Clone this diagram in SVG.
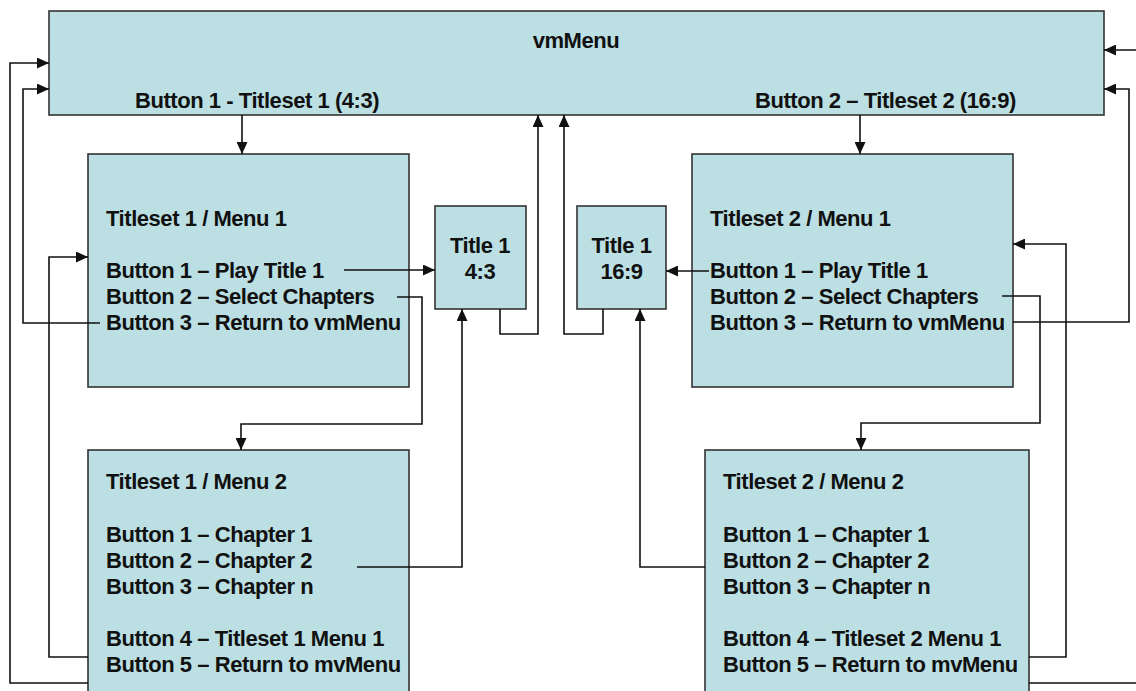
<svg xmlns="http://www.w3.org/2000/svg" width="1136" height="691" viewBox="0 0 1136 691">
<defs>
<style>
.box{fill:#bbdfe3;stroke:#333;stroke-width:1.6}
.t{font-family:"Liberation Sans",Arial,sans-serif;font-weight:bold;font-size:22px;letter-spacing:-0.45px;fill:#111}
.c{fill:none;stroke:#111;stroke-width:1.6}
</style>
<marker id="ah" markerUnits="userSpaceOnUse" markerWidth="13" markerHeight="11" refX="12" refY="5.5" orient="auto">
<path d="M0,0 L12,5.5 L0,11 Z" fill="#111"/>
</marker>
</defs>
<rect width="1136" height="691" fill="#fff"/>
<g id="vmMenu">
<rect class="box" x="49" y="11" width="1055" height="104"/>
<text class="t" x="576" y="48" text-anchor="middle">vmMenu</text>
<text class="t" x="135" y="108">Button 1 - Titleset 1 (4:3)</text>
<text class="t" x="755" y="108">Button 2 – Titleset 2 (16:9)</text>
</g>
<g id="ts1m1">
<rect class="box" x="88" y="154" width="321" height="233"/>
<text class="t" x="106" y="226">Titleset 1 / Menu 1</text>
<text class="t" x="106" y="278">Button 1 – Play Title 1</text>
<text class="t" x="106" y="304">Button 2 – Select Chapters</text>
<text class="t" x="106" y="330">Button 3 – Return to vmMenu</text>
</g>
<g id="title43">
<rect class="box" x="435" y="206" width="91" height="103"/>
<text class="t" x="480" y="253" text-anchor="middle">Title 1</text>
<text class="t" x="480" y="279" text-anchor="middle">4:3</text>
</g>
<g id="title169">
<rect class="box" x="577" y="206" width="89" height="103"/>
<text class="t" x="621.5" y="253" text-anchor="middle">Title 1</text>
<text class="t" x="621.5" y="279" text-anchor="middle">16:9</text>
</g>
<g id="ts2m1">
<rect class="box" x="692" y="154" width="321" height="233"/>
<text class="t" x="710" y="226">Titleset 2 / Menu 1</text>
<text class="t" x="710" y="278">Button 1 – Play Title 1</text>
<text class="t" x="710" y="304">Button 2 – Select Chapters</text>
<text class="t" x="710" y="330">Button 3 – Return to vmMenu</text>
</g>
<g id="ts1m2">
<rect class="box" x="88" y="450" width="321" height="260"/>
<text class="t" x="106" y="489">Titleset 1 / Menu 2</text>
<text class="t" x="106" y="542">Button 1 – Chapter 1</text>
<text class="t" x="106" y="568">Button 2 – Chapter 2</text>
<text class="t" x="106" y="594">Button 3 – Chapter n</text>
<text class="t" x="106" y="646">Button 4 – Titleset 1 Menu 1</text>
<text class="t" x="106" y="672">Button 5 – Return to mvMenu</text>
</g>
<g id="ts2m2">
<rect class="box" x="705" y="450" width="324" height="260"/>
<text class="t" x="723" y="489">Titleset 2 / Menu 2</text>
<text class="t" x="723" y="542">Button 1 – Chapter 1</text>
<text class="t" x="723" y="568">Button 2 – Chapter 2</text>
<text class="t" x="723" y="594">Button 3 – Chapter n</text>
<text class="t" x="723" y="646">Button 4 – Titleset 2 Menu 1</text>
<text class="t" x="723" y="672">Button 5 – Return to mvMenu</text>
</g>
<g id="connectors">
<path class="c" d="M242,115 V154" marker-end="url(#ah)"/>
<path class="c" d="M860,115 V154" marker-end="url(#ah)"/>
<path class="c" d="M88,683 H10 V63 H49" marker-end="url(#ah)"/>
<path class="c" d="M100,323 H23 V89 H49" marker-end="url(#ah)"/>
<path class="c" d="M88,657 H49 V257 H88" marker-end="url(#ah)"/>
<path class="c" d="M344,270 H435" marker-end="url(#ah)"/>
<path class="c" d="M397,297 H422 V424 H241 V450" marker-end="url(#ah)"/>
<path class="c" d="M357,567 H462 V309" marker-end="url(#ah)"/>
<path class="c" d="M500,309 V334 H538 V115" marker-end="url(#ah)"/>
<path class="c" d="M603,309 V334 H564 V115" marker-end="url(#ah)"/>
<path class="c" d="M709,271 H666" marker-end="url(#ah)"/>
<path class="c" d="M1002,296 H1040 V423 H861 V450" marker-end="url(#ah)"/>
<path class="c" d="M1013,322 H1129 V89 H1104" marker-end="url(#ah)"/>
<path class="c" d="M705,567 H640 V309" marker-end="url(#ah)"/>
<path class="c" d="M1029,657 H1066 V244 H1013" marker-end="url(#ah)"/>
<path class="c" d="M1029,683 H1150 V50 H1104" marker-end="url(#ah)"/>
</g>
</svg>
